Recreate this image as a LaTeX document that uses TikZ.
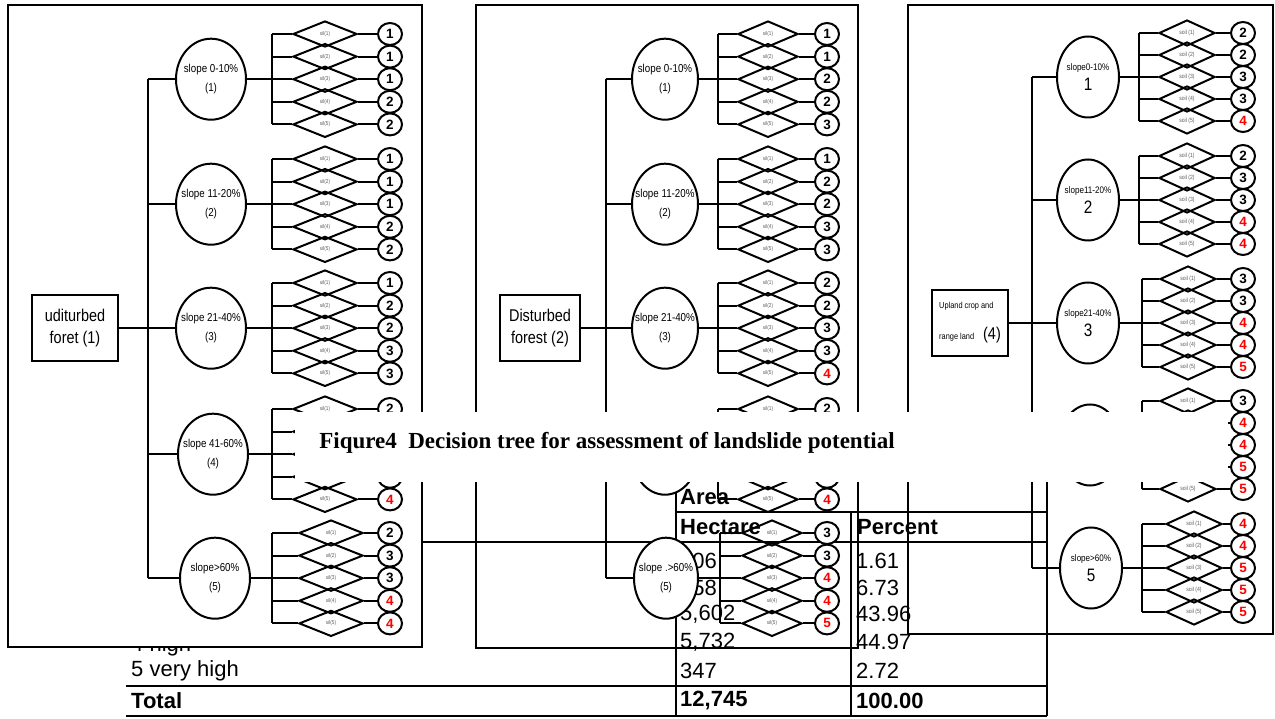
\documentclass[tikz,border=0pt]{standalone}
\usepackage{fontspec}
\setmainfont{Liberation Serif}
\setsansfont{Liberation Sans}
\newfontfamily\narrowfont[FakeStretch=0.85]{Liberation Sans}
\usepackage{xcolor}
\usepackage{tikz}
\usetikzlibrary{shapes.geometric}

\newcommand{\fsz}[1]{\fontsize{#1}{#1}\selectfont}
\def\hidemark{h}
% one slope block: #1 prefix, #2 first row y, #3 row step, #4 branch x,
% #5 diamond x, #6 score x, #7 value/label-flag list, #8 label text, #9 slope node
\newcommand{\soilrows}[9]{%
  \coordinate (#1br) at ({#4},{#2});
  \foreach \v/\s [count=\j] in {#7}{%
    \ifnum\s=1 \def\dlab{#8\j)}\else\def\dlab{}\fi
    \edef\cur{\v}%
    \ifx\cur\hidemark\def\dval{}\else\edef\dval{\v}\fi
    \node[soil] (#1d\j) at ({#5},{#2+(\j-1)*#3}) {\dlab};
    \node[score, val\v] (#1c\j) at ({#6},{#2+(\j-1)*#3}) {\dval};
    \draw[link] (#1d\j.west) -- (#1d\j.west -| #1br);
    \draw[link] (#1d\j.east) -- (#1c\j.west);
  }
  \draw[link] (#1d1.west -| #1br) -- (#1d5.west -| #1br);
  \draw[link] (#9.east) -- (#9.east -| #1br);
}

\begin{document}
\begin{tikzpicture}[
    x=1pt, y=-1pt,
    % frames and connecting lines
    panel/.style={draw, line width=2pt},
    link/.style={line width=2pt},
    tabline/.style={line width=1.6pt},
    % land-use boxes
    landbox/.style={
        draw,
        rectangle,
        fill=white,
        line width=2pt,
        minimum width=86pt,
        minimum height=66pt,
        inner sep=2pt,
        align=center,
        font=\narrowfont\fsz{17}
    },
    % slope classes
    slope/.style={
        draw,
        ellipse,
        fill=white,
        line width=2pt,
        minimum width=70pt,
        minimum height=81pt,
        inner sep=0pt
    },
    slopetxt/.style={align=center, inner sep=0pt, font=\narrowfont\fsz{11.5}},
    % soil classes
    soil/.style={
        draw,
        diamond,
        line width=2pt,
        minimum width=62pt,
        minimum height=26pt,
        inner sep=0pt,
        text=black!65,
        font=\narrowfont\fsz{5.5}
    },
    % landslide potential scores
    score/.style={
        draw,
        ellipse,
        fill=white,
        line width=2pt,
        minimum width=24pt,
        minimum height=22pt,
        inner sep=0pt,
        font=\sffamily\bfseries\fsz{13.5}
    },
    val1/.style={}, val2/.style={}, val3/.style={}, valh/.style={},
    val4/.style={text=red}, val5/.style={text=red},
    % table text
    tabtxt/.style={anchor=west, inner sep=0pt, font=\sffamily\fsz{22}},
    tabhead/.style={anchor=west, inner sep=0pt, font=\sffamily\bfseries\fsz{22}}
]
\useasboundingbox (0,0) rectangle (1275,719);

% =====================================================================
% AREA TABLE (behind the trees)
% =====================================================================
\draw[tabline] (676,470) -- (676,716);
\draw[tabline] (851,512) -- (851,716);
\draw[tabline] (1047,470) -- (1047,716);
\draw[tabline] (676,512) -- (1047,512);
\draw[tabline] (126,542) -- (1047,542);
\draw[tabline] (126,686) -- (1047,686);
\draw[tabline] (126,716) -- (1047,716);

\node[tabhead] (area) at (680,497) {Area};
\node[tabhead] (hect) at (680,527) {Hectare};
\node[tabhead] (perc) at (857,527) {Percent};
\node[tabtxt] (h1) at (680,561) {206};
\node[tabtxt] (h2) at (680,588) {858};
\node[tabtxt] (h3) at (680,614) {5,602};
\node[tabtxt] (h4) at (680,642) {5,732};
\node[tabtxt] (h5) at (680,671) {347};
\node[tabhead] (htot) at (680,701) {12,745};
\node[tabtxt] (p1) at (856,561) {1.61};
\node[tabtxt] (p2) at (856,588) {6.73};
\node[tabtxt] (p3) at (856,614) {43.96};
\node[tabtxt] (p4) at (856,642) {44.97};
\node[tabtxt] (p5) at (856,671) {2.72};
\node[tabhead] (ptot) at (856,701) {100.00};
\node[tabtxt] (r4) at (131,646) {4 high};
\node[tabtxt] (r5) at (131,671) {5 very high};
\node[tabhead] (rtot) at (131,701) {Total};

% =====================================================================
% TREE 1: UNDISTURBED FOREST
% =====================================================================
\draw[panel, fill=white] (8,5) rectangle (422,647);
\node[landbox] (land1) at (75,328.2) {uditurbed\\[5pt]foret (1)};
\coordinate (trk1) at (148,0);

\node[slope, label={[slopetxt]center:{slope 0-10\%\\[7pt](1)}}] (slp11) at (211,79.2) {};
\node[slope, label={[slopetxt]center:{slope 11-20\%\\[7pt](2)}}] (slp12) at (211,204.2) {};
\node[slope, label={[slopetxt]center:{slope 21-40\%\\[7pt](3)}}] (slp13) at (211,328.2) {};
\node[slope, label={[slopetxt]center:{slope 41-60\%\\[7pt](4)}}] (slp14) at (213,454.2) {};
\node[slope, label={[slopetxt]center:{slope>60\%\\[7pt](5)}}] (slp15) at (215,578.2) {};

\draw[link] (land1) -- (slp13);
\draw[link] (slp11.west -| trk1) -- (slp15.west -| trk1);
\foreach \i in {1,...,5} \draw[link] (slp1\i.west) -- (slp1\i.west -| trk1);

\begin{scope}[soil/.append style={minimum width=64pt}]
\soilrows{blk11}{34}{22.6}{272}{325}{390}{1/1,1/1,1/1,2/1,2/1}{sil(}{slp11}
\soilrows{blk12}{159}{22.6}{272}{325}{390}{1/1,1/1,1/1,2/1,2/1}{sil(}{slp12}
\soilrows{blk13}{283}{22.6}{272}{325}{390}{1/1,2/1,2/1,3/1,3/1}{sil(}{slp13}
\soilrows{blk14}{409}{22.6}{272}{325}{390}{2/1,h/0,h/0,h/0,4/1}{sil(}{slp14}
\soilrows{blk15}{533}{22.6}{272}{331}{390}{2/1,3/1,3/1,4/1,4/1}{sil(}{slp15}
\end{scope}

% =====================================================================
% TREE 2: DISTURBED FOREST
% =====================================================================
\draw[panel] (476,5) rectangle (858,648);
\node[landbox, minimum width=80pt] (land2) at (540,328.2) {Disturbed\\[5pt]forest (2)};
\coordinate (trk2) at (606,0);

\node[slope, minimum width=66pt, label={[slopetxt]center:{slope 0-10\%\\[7pt](1)}}] (slp21) at (665,79.2) {};
\node[slope, minimum width=66pt, label={[slopetxt]center:{slope 11-20\%\\[7pt](2)}}] (slp22) at (665,204.2) {};
\node[slope, minimum width=66pt, label={[slopetxt]center:{slope 21-40\%\\[7pt](3)}}] (slp23) at (665,328.2) {};
\node[slope, minimum width=66pt] (slp24) at (665,454.2) {};
\node[slope, minimum width=64pt, label={[slopetxt]center:{slope .>60\%\\[7pt](5)}}] (slp25) at (666,578.2) {};

\draw[link] (land2) -- (slp23);
\draw[link] (slp21.west -| trk2) -- (slp25.west -| trk2);
\foreach \i in {1,...,5} \draw[link] (slp2\i.west) -- (slp2\i.west -| trk2);

\begin{scope}[soil/.append style={minimum width=60pt}]
\soilrows{blk21}{34}{22.6}{718}{768}{827}{1/1,1/1,2/1,2/1,3/1}{sil(}{slp21}
\soilrows{blk22}{159}{22.6}{718}{768}{827}{1/1,2/1,2/1,3/1,3/1}{sil(}{slp22}
\soilrows{blk23}{283}{22.6}{718}{768}{827}{2/1,2/1,3/1,3/1,4/1}{sil(}{slp23}
\soilrows{blk24}{409}{22.6}{718}{768}{827}{2/1,h/0,h/0,h/0,4/1}{sil(}{slp24}
\soilrows{blk25}{533}{22.6}{720}{772}{827}{3/1,3/1,4/1,4/1,5/1}{sil(}{slp25}
\end{scope}

% =====================================================================
% TREE 3: UPLAND CROP AND RANGE LAND
% =====================================================================
\draw[panel] (908,5) rectangle (1273,634);
\node[landbox, minimum width=76pt, align=left] (land3) at (970,323)
    {{\fsz{8.7}Upland crop and}\\[14pt]{\fsz{8.7}range land}\hspace{9pt}{\fsz{17}(4)}};
\coordinate (trk3) at (1032,0);

\node[slope, minimum width=62pt, label={[slopetxt]center:{{\fsz{9.5}slope0-10\%}\\[5pt]{\fsz{18}1}}}] (slp31) at (1088,77) {};
\node[slope, minimum width=62pt, label={[slopetxt]center:{{\fsz{9.5}slope11-20\%}\\[5pt]{\fsz{18}2}}}] (slp32) at (1088,200) {};
\node[slope, minimum width=62pt, label={[slopetxt]center:{{\fsz{9.5}slope21-40\%}\\[5pt]{\fsz{18}3}}}] (slp33) at (1088,323) {};
\node[slope, minimum width=62pt] (slp34) at (1090,445) {};
\node[slope, minimum width=62pt, label={[slopetxt]center:{{\fsz{9.5}slope>60\%}\\[5pt]{\fsz{18}5}}}] (slp35) at (1091,568) {};

\draw[link] (land3) -- (slp33);
\draw[link] (slp31.west -| trk3) -- (slp35.west -| trk3);
\foreach \i in {1,...,5} \draw[link] (slp3\i.west) -- (slp3\i.west -| trk3);

\begin{scope}[soil/.append style={minimum width=56pt, font=\narrowfont\fsz{6}}]
\soilrows{blk31}{33}{22}{1139}{1187}{1243}{2/1,2/1,3/1,3/1,4/1}{soil (}{slp31}
\soilrows{blk32}{156}{22}{1139}{1187}{1243}{2/1,3/1,3/1,4/1,4/1}{soil (}{slp32}
\soilrows{blk33}{279}{22}{1142}{1188}{1243}{3/1,3/1,4/1,4/1,5/1}{soil (}{slp33}
\soilrows{blk34}{401}{22}{1142}{1188}{1243}{3/1,4/0,4/0,5/0,5/1}{soil (}{slp34}
\soilrows{blk35}{524}{22}{1142}{1194}{1243}{4/1,4/1,5/1,5/1,5/1}{soil (}{slp35}
\end{scope}

% =====================================================================
% CAPTION STRIP
% =====================================================================
\fill[white] (295,412) rectangle (1228,482);
\node[inner sep=0pt, font=\rmfamily\bfseries\fsz{23}] (caption) at (607,443)
    {Fiqure4\ \ Decision tree for assessment of landslide potential};

\end{tikzpicture}
\end{document}
